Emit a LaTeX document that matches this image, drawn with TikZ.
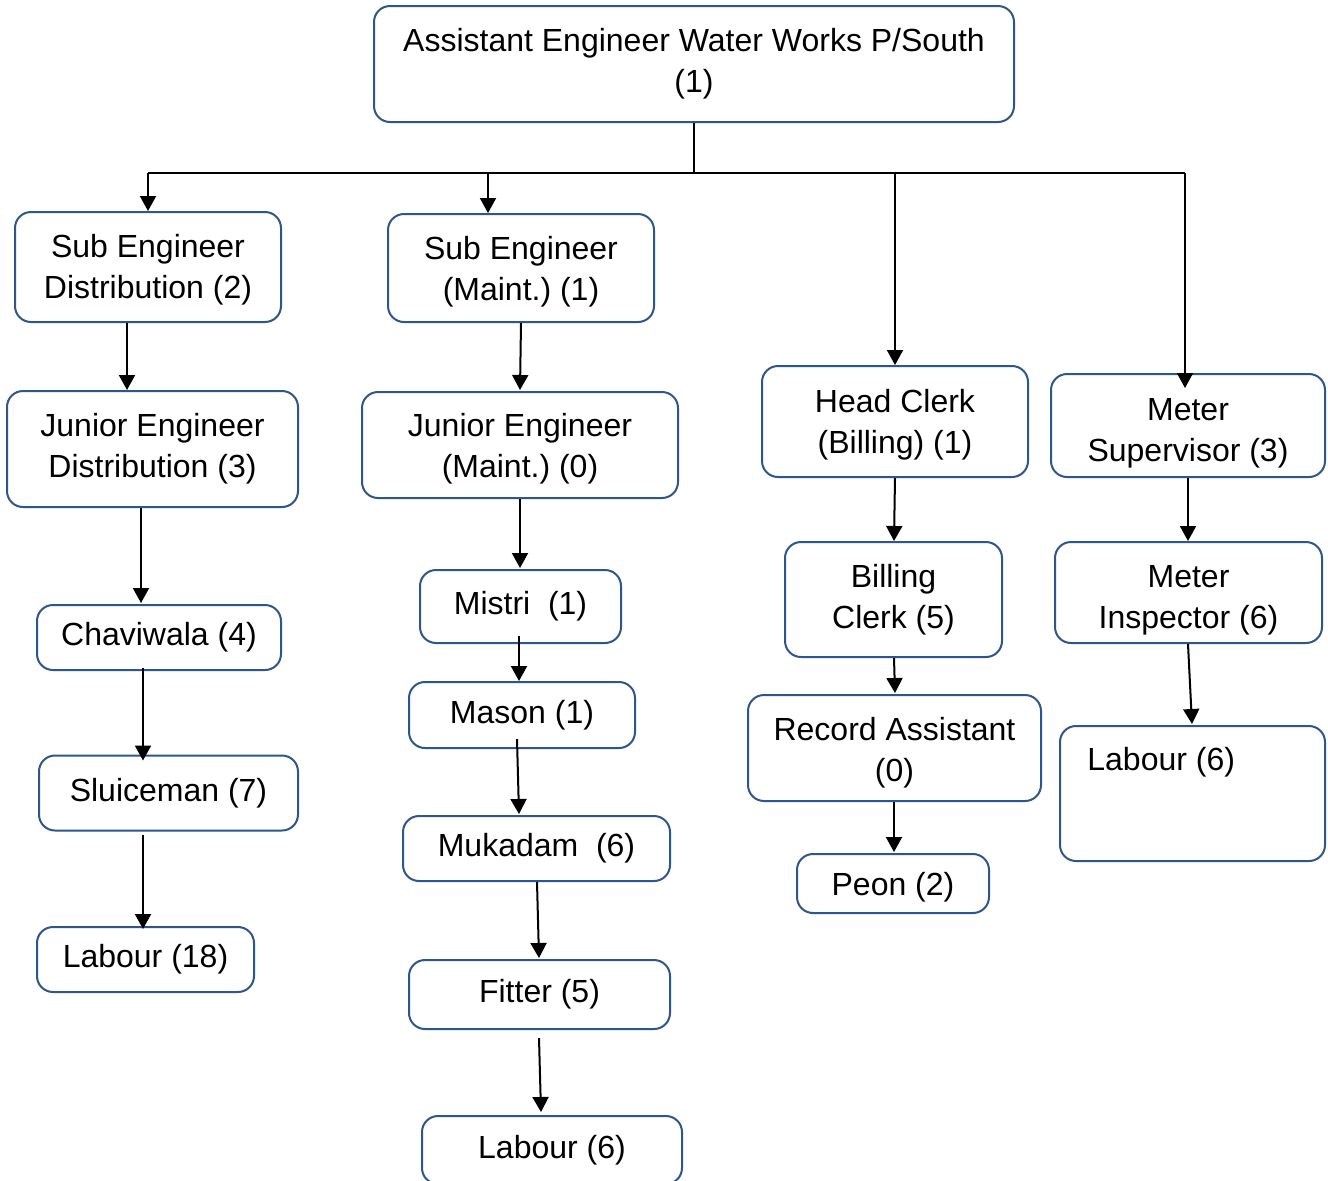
\documentclass[tikz,border=0pt]{standalone}
\usepackage{fontspec}
\setmainfont{Liberation Sans}
\usetikzlibrary{arrows.meta}
\definecolor{boxblue}{RGB}{47,85,143}
\frenchspacing
\begin{document}
\begin{tikzpicture}[x=0.5pt,y=-0.5pt,
  box/.style={draw=boxblue,line width=1pt,rounded corners=8pt,inner sep=0pt,align=center,
    font=\fontsize{16pt}{20.5pt}\selectfont\frenchspacing,fill=white},
  sz/.style 2 args={minimum width=#1*0.5pt,minimum height=#2*0.5pt},
  txt/.style={inner sep=0pt,font=\fontsize{16pt}{20.5pt}\selectfont},
  line/.style={draw=black,line width=1pt},
  arr/.style={line,-{Triangle[length=7.5pt,width=8pt]}}]
\path[use as bounding box,clip] (0,0) rectangle (1328,1180);
\fill[white] (0,0) rectangle (1328,1180);
% boxes
\node[box,sz={640}{116}] (ae) at (694,64) {Assistant Engineer Water Works P/South\\(1)};
\node[box,sz={266}{110},text height=35.2pt] (sed) at (148,267) {Sub Engineer\\Distribution (2)};
\node[box,sz={266}{108},text height=36.2pt] (sem) at (521,268) {Sub Engineer\\(Maint.) (1)};
\node[box,sz={291}{116}] (jed) at (152.5,449) {Junior Engineer\\Distribution (3)};
\node[box,sz={316}{106},text height=36pt] (jem) at (520,445) {Junior Engineer\\(Maint.) (0)};
\node[box,sz={244}{65}] (chav) at (159,637.5) {Chaviwala (4)};
\node[box,sz={259}{75}] (slu) at (168.5,793) {Sluiceman (7)};
\node[box,sz={217}{65}] (lab18) at (145.5,959.5) {Labour (18)};
\node[box,sz={201}{73}] (mis) at (520.5,606.5) {Mistri\ \ (1)};
\node[box,sz={226}{66}] (mas) at (522,715) {Mason (1)};
\node[box,sz={267}{65}] (muk) at (536.5,848.5) {Mukadam\ \ (6)};
\node[box,sz={261}{69}] (fit) at (539.5,994.5) {Fitter (5)};
\node[box,sz={260}{68}] (labm) at (552,1150) {Labour (6)};
\node[box,sz={266}{111},text height=35.2pt] (hc) at (895,421.5) {Head Clerk\\(Billing) (1)};
\node[box,sz={217}{115}] (bc) at (893.5,599.5) {Billing\\Clerk (5)};
\node[box,sz={293}{106},text height=37.2pt] (ra) at (894.5,748) {Record Assistant\\(0)};
\node[box,sz={192}{59},text height=15.7pt] (peon) at (893,883.5) {Peon (2)};
\node[box,sz={274}{103},text height=39pt] (ms) at (1188,425.5) {Meter\\Supervisor (3)};
\node[box,sz={267}{101},text height=39pt] (mi) at (1188.5,592.5) {Meter\\Inspector (6)};
\node[box,sz={265}{135}] (labr) at (1192.5,793.5) {};
\node[txt,anchor=west] (labrt) at (1087,762) {Labour (6)};
% trunk
\coordinate (hl) at (148,173);
\coordinate (hr) at (1185,173);
\coordinate (semin) at ([shift={(-33,0)}]sem.north);
\coordinate (msin) at ([shift={(-3,15)}]ms.north);
\draw[line] (ae.south) -- (ae.south |- hl);
\draw[line] (hl) -- (hr);
\draw[arr] (hl) -- (sed.north);
\draw[arr] (semin |- hl) -- (semin);
\draw[arr] (hc.north |- hl) -- (hc.north);
\draw[arr] (hr) -- (msin);
% column 1
\draw[arr] ([shift={(-21,0)}]sed.south) -- ([shift={(-25.5,0)}]jed.north);
\draw[arr] ([shift={(-11.5,0)}]jed.south) -- ([shift={(-18,-1)}]chav.north);
\draw[arr] ([shift={(-16,-3)}]chav.south) -- ([shift={(-25.5,6)}]slu.north);
\draw[arr] ([shift={(-25.5,3)}]slu.south) -- ([shift={(-2.5,3)}]lab18.north);
% column 2
\draw[arr] (sem.south) -- ([shift={(0,-1)}]jem.north);
\draw[arr] (jem.south) -- ([shift={(-0.5,-1)}]mis.north);
\draw[arr] ([shift={(-1.5,-8)}]mis.south) -- ([shift={(-3,0)}]mas.north);
\draw[arr] ([shift={(-5,-10)}]mas.south) -- ([shift={(-17.5,-1)}]muk.north);
\draw[arr] ([shift={(0.5,0)}]muk.south) -- ([shift={(-0.5,-1)}]fit.north);
\draw[arr] ([shift={(-0.5,8)}]fit.south) -- ([shift={(-11,-3)}]labm.north);
% column 3
\draw[arr] (hc.south) -- ([shift={(0.5,0)}]bc.north);
\draw[arr] ([shift={(0.5,0)}]bc.south) -- ([shift={(0.5,-1)}]ra.north);
\draw[arr] ([shift={(-0.5,0)}]ra.south) -- ([shift={(1,-1)}]peon.north);
% column 4
\draw[arr] (ms.south) -- ([shift={(-0.5,0)}]mi.north);
\draw[arr] ([shift={(-0.5,0)}]mi.south) -- ([shift={(-0.5,-1)}]labr.north);
\end{tikzpicture}
\end{document}
